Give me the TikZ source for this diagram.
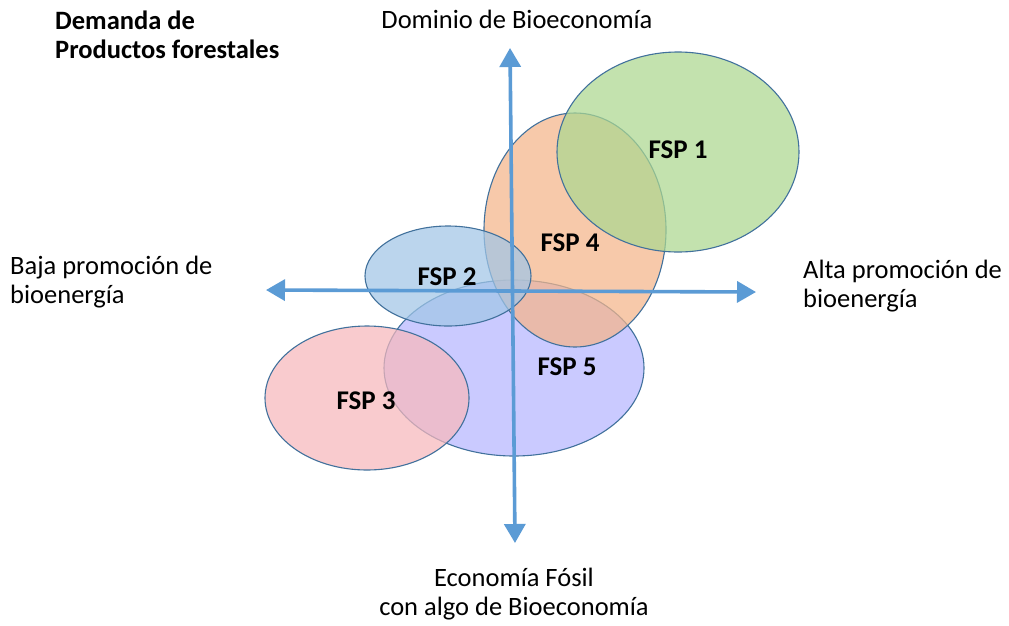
\documentclass[tikz,border=0pt]{standalone}
\usepackage{fontspec}
\setmainfont{Carlito}
\usetikzlibrary{arrows.meta}
\definecolor{axisblue}{RGB}{91,155,213}
\definecolor{edgeblue}{RGB}{65,113,156}
\definecolor{cgreen}{RGB}{172,216,144}
\definecolor{corange}{RGB}{245,181,138}
\definecolor{cpurple}{RGB}{182,182,255}
\definecolor{cpink}{RGB}{248,184,188}
\definecolor{cblue}{RGB}{161,198,231}
\tikzset{
  blob/.style={draw=edgeblue, line width=1.1pt, fill opacity=0.72, draw opacity=1},
  axisarrow/.style={draw=axisblue, line width=3.6pt, -{Triangle[width=21pt,length=19pt]}},
  lbl/.style={font=\fontsize{26.5}{29}\selectfont, inner sep=0pt},
  fsp/.style={font=\fontsize{27}{29}\selectfont\bfseries, inner sep=0pt}
}
\begin{document}
\begin{tikzpicture}[x=1pt,y=-1pt]
\useasboundingbox[fill=white] (0,0) rectangle (1009,625);
% ellipses
\filldraw[blob, fill=cpurple] (514,368) ellipse [x radius=130, y radius=88];
\filldraw[blob, fill=cpink] (367,398) ellipse [x radius=102, y radius=72];
\filldraw[blob, fill=corange] (575,230) ellipse [x radius=91, y radius=117];
\filldraw[blob, fill=cgreen] (678,152) ellipse [x radius=121, y radius=100];
\filldraw[blob, fill=cblue] (448,276) ellipse [x radius=83, y radius=50];
% axes
\coordinate (L) at (266,290);
\coordinate (R) at (756,292);
\coordinate (T) at (510,48);
\coordinate (B) at (515,543);
\coordinate (HC) at (511,291);
\coordinate (VC) at (512.5,291);
\draw[axisarrow] (HC) -- (L);
\draw[axisarrow] (HC) -- (R);
\draw[axisarrow] (VC) -- (T);
\draw[axisarrow] (VC) -- (B);
% FSP labels
\node[fsp] (f1) at (678,150) {FSP 1};
\node[fsp] (f4) at (570,243) {FSP 4};
\node[fsp] (f2) at (447,277) {FSP 2};
\node[fsp] (f5) at (567,367) {FSP 5};
\node[fsp] (f3) at (366,401) {FSP 3};
% outer labels
\node[lbl, font=\fontsize{26.5}{29}\selectfont\bfseries, anchor=base west, align=left] (title) at (55,58) {Demanda de\\Productos forestales};
\node[lbl, anchor=base] (top) at (517,28) {Dominio de Bioeconomía};
\node[lbl, anchor=base west, align=left] (left) at (10,303) {Baja promoción de\\bioenergía};
\node[lbl, anchor=base west, align=left] (right) at (803,307) {Alta promoción de\\bioenergía};
\node[lbl, anchor=base, align=center] (bot) at (514,615) {Economía Fósil\\con algo de Bioeconomía};
\end{tikzpicture}
\end{document}
